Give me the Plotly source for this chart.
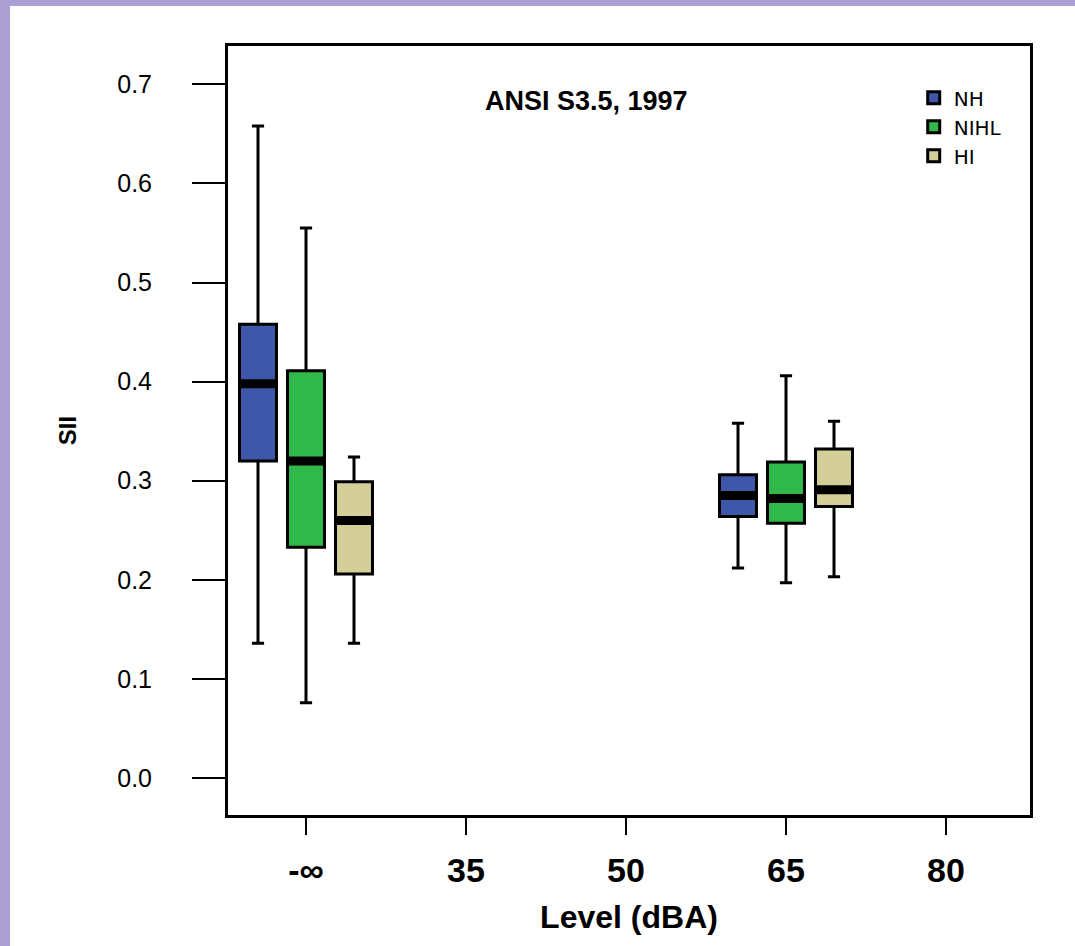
import plotly.graph_objects as go

# Presentation levels on the x axis and the ones that carry data
levels = ["-∞", "35", "50", "65", "80"]
measured_levels = ["-∞", "65"]

groups = ["NH", "NIHL", "HI"]
colors = {"NH": "#3e57a9", "NIHL": "#30b84a", "HI": "#d4cf99"}

# Box-plot summaries of SII per group, one value per measured level
upper_whisker = {"NH": [0.658, 0.358], "NIHL": [0.555, 0.406], "HI": [0.324, 0.360]}
q3_values = {"NH": [0.458, 0.306], "NIHL": [0.411, 0.319], "HI": [0.299, 0.332]}
medians = {"NH": [0.398, 0.285], "NIHL": [0.320, 0.282], "HI": [0.260, 0.291]}
q1_values = {"NH": [0.320, 0.264], "NIHL": [0.233, 0.257], "HI": [0.206, 0.274]}
lower_whisker = {"NH": [0.136, 0.212], "NIHL": [0.076, 0.197], "HI": [0.136, 0.203]}

y_ticks = [0.0, 0.1, 0.2, 0.3, 0.4, 0.5, 0.6, 0.7]

W, H = 1075, 946
ML, MR, MT, MB = 228, 45, 46, 131

fig = go.Figure()

for g in groups:
    fig.add_trace(go.Box(
        name=g,
        x=measured_levels,
        q1=q1_values[g], median=medians[g], q3=q3_values[g],
        lowerfence=lower_whisker[g], upperfence=upper_whisker[g],
        offsetgroup=g,
        fillcolor=colors[g],
        line=dict(color="black", width=3),
        whiskerwidth=0.33,
        boxpoints=False,
        hoverinfo="skip",
    ))

# Heavy median bars drawn on top of each box
for g in groups:
    fig.add_trace(go.Box(
        name=g,
        x=measured_levels,
        q1=medians[g], median=medians[g], q3=medians[g],
        lowerfence=medians[g], upperfence=medians[g],
        offsetgroup=g,
        fillcolor="black",
        line=dict(color="black", width=9),
        whiskerwidth=0,
        boxpoints=False,
        showlegend=False,
        hoverinfo="skip",
    ))

pw = W - ML - MR
ph = H - MT - MB

def px_to_paper_x(px):
    return (px - ML) / pw

def px_to_paper_y(py):
    return (H - MB - py) / ph

# Lavender page border along the left and top edges
border = "#ab9fd3"
shapes = [
    dict(type="rect", xref="paper", yref="paper", layer="below", line=dict(width=0),
         fillcolor=border, x0=px_to_paper_x(0), x1=px_to_paper_x(10),
         y0=px_to_paper_y(H), y1=px_to_paper_y(0)),
    dict(type="rect", xref="paper", yref="paper", layer="below", line=dict(width=0),
         fillcolor=border, x0=px_to_paper_x(0), x1=px_to_paper_x(W),
         y0=px_to_paper_y(6), y1=px_to_paper_y(0)),
]

fig.update_layout(
    width=W, height=H,
    margin=dict(l=ML, r=MR, t=MT, b=MB, pad=0),
    paper_bgcolor="white", plot_bgcolor="white",
    boxmode="group", boxgap=0.1, boxgroupgap=0.23,
    shapes=shapes,
    showlegend=True,
    legend=dict(
        x=0.855, y=0.958, xanchor="left", yanchor="top",
        bgcolor="rgba(0,0,0,0)", borderwidth=0,
        font=dict(family="DejaVu Sans", size=20, color="black"),
        tracegroupgap=0, itemwidth=30,
    ),
    annotations=[dict(
        text="<b>ANSI S3.5, 1997</b>", xref="paper", yref="paper",
        x=px_to_paper_x(586), y=px_to_paper_y(101), xanchor="center", yanchor="middle",
        showarrow=False, font=dict(family="Liberation Sans", size=27, color="black"),
    )],
)

fig.update_xaxes(
    type="category", categoryorder="array", categoryarray=levels,
    tickvals=levels, ticktext=levels,
    range=[-0.4875, 4.525],
    showline=True, linecolor="black", linewidth=3, mirror=True,
    ticks="outside", ticklen=17, tickwidth=2, tickcolor="black",
    ticklabelstandoff=6,
    tickfont=dict(family="Liberation Sans", size=34, color="black", weight="bold"),
    showgrid=False, zeroline=False,
    title=dict(text="<b>Level (dBA)</b>", standoff=18,
               font=dict(family="Liberation Sans", size=32, color="black")),
)

fig.update_yaxes(
    range=[-0.0373, 0.7387],
    tickvals=y_ticks, ticktext=[f"{v:.1f}" for v in y_ticks],
    showline=True, linecolor="black", linewidth=3, mirror=True,
    ticks="outside", ticklen=33, tickwidth=2, tickcolor="black",
    ticklabelstandoff=35,
    tickfont=dict(family="Liberation Sans", size=25, color="black"),
    showgrid=False, zeroline=False,
    title=dict(text="<b>SII</b>", standoff=34,
               font=dict(family="Liberation Sans", size=24, color="black")),
)

fig.write_html("out.html")
